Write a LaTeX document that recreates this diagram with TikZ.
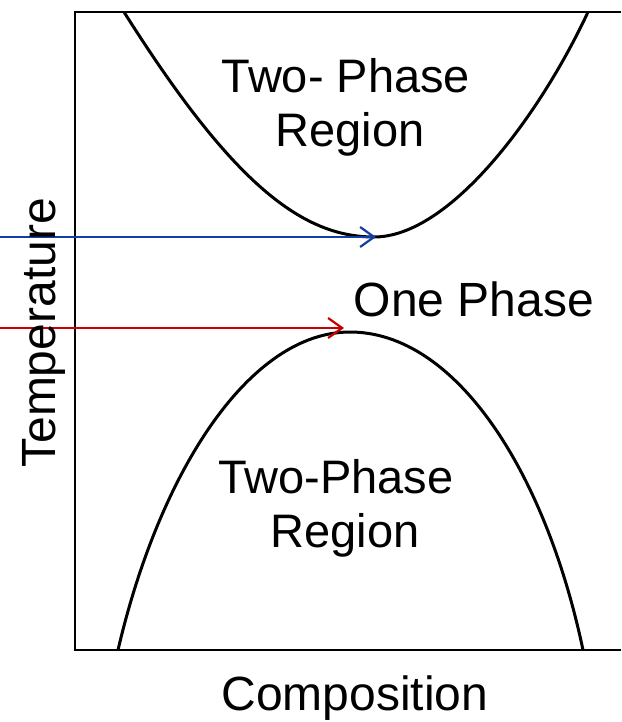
\documentclass[tikz,border=0pt]{standalone}
\usepackage{fontspec}
\setmainfont{Liberation Sans}
\usetikzlibrary{arrows.meta}
\definecolor{arrowblue}{RGB}{18,62,165}
\definecolor{arrowred}{RGB}{200,0,0}
\tikzset{
  frameline/.style={line width=2.2pt, black},
  curveline/.style={line width=3pt, black},
  pointer/.style={line width=2.2pt, -{Straight Barb[length=14pt,width=20pt,line width=2.2pt]}},
  label/.style={inner sep=0pt, anchor=base, font=\fontsize{47}{54}\selectfont}
}
\begin{document}
\begin{tikzpicture}[x=1pt,y=-1pt]
\useasboundingbox (0,0) rectangle (621,722);
% frame
\coordinate (tr) at (621,12);
\coordinate (tl) at (75,12);
\coordinate (bl) at (75,650);
\coordinate (br) at (621,650);
\draw[frameline] (tr) -- (tl) -- (bl) -- (br);
% upper two-phase boundary
\coordinate (umin) at (374,237);
\draw[curveline] (124,12) .. controls (230,180) and (300,237) .. (umin)
  .. controls (450,237) and (540,115) .. (588,12);
% lower two-phase boundary
\coordinate (lmax) at (350,332);
\draw[curveline] (118,650) .. controls (160,470) and (250,332) .. (lmax)
  .. controls (455,332) and (545,470) .. (583,650);
% arrows
\coordinate (bstart) at (0,237);
\coordinate (bend) at (376,237);
\draw[pointer, arrowblue] (bstart) -- (bend);
\coordinate (rstart) at (0,328);
\coordinate (rend) at (344,328);
\draw[pointer, arrowred] (rstart) -- (rend);
% labels
\node[label] (up1) at (346,93) {Two- Phase};
\node[label] (up2) at (350,147) {Region};
\node[label, font=\fontsize{48}{54}\selectfont] (one) at (474,316) {One Phase};
\node[label] (lo1) at (336,493) {Two-Phase};
\node[label] (lo2) at (345,547) {Region};
\node[label, font=\fontsize{48}{54}\selectfont] (xlab) at (355,710) {Composition};
\node[label, font=\fontsize{48}{54}\selectfont, rotate=90] (ylab) at (55,333) {Temperature};
\end{tikzpicture}
\end{document}
